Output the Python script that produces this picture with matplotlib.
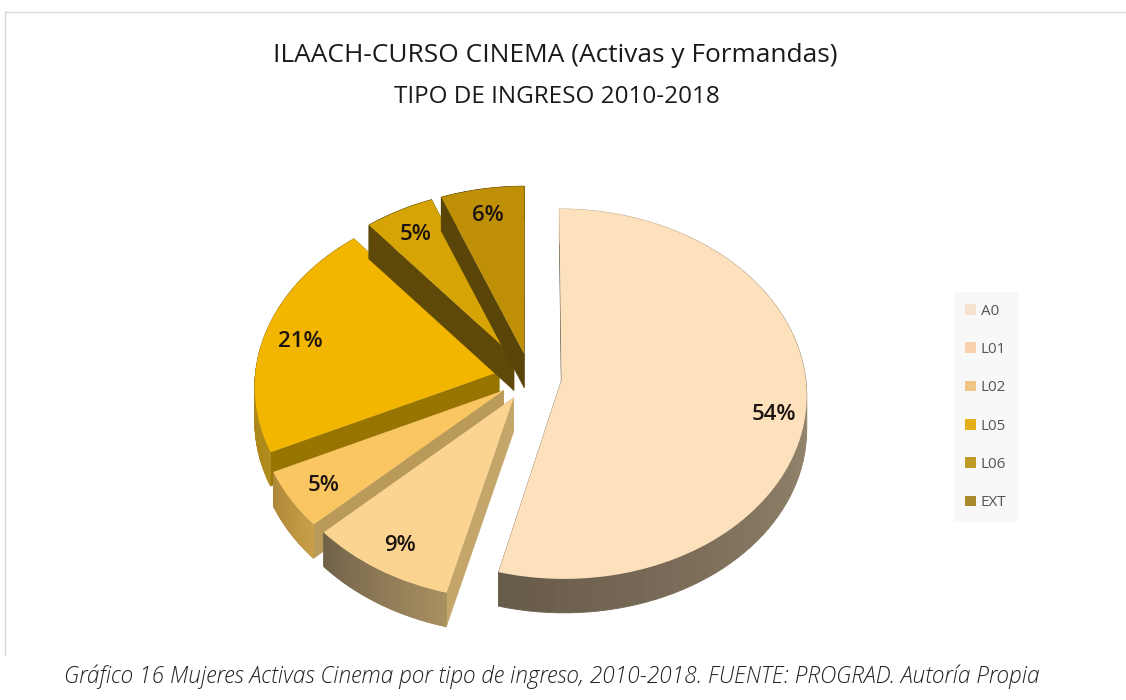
import numpy as np
import matplotlib
matplotlib.use("Agg")
import matplotlib.pyplot as plt
from matplotlib.patches import Rectangle
from matplotlib.lines import Line2D
from matplotlib.transforms import Transform
from matplotlib.colors import to_rgb

# data
categories = ["A0", "L01", "L02", "L05", "L06", "EXT"]
values = [54, 9, 5, 21, 5, 6]

title = "ILAACH-CURSO CINEMA (Activas y Formandas)"
subtitle = "TIPO DE INGRESO 2010-2018"
caption = "Gráfico 16 Mujeres Activas Cinema por tipo de ingreso, 2010-2018. FUENTE: PROGRAD. Autoría Propia"

# colours
face_colors = ["#FDE0BC", "#FCD491", "#FAC661", "#F2B500", "#D6A404", "#BF8F06"]
cut_colors = ["#6E6250", "#C4A56A", "#B99A58", "#987400", "#5E4908", "#5A4508"]
rim_start = ["#C2AE90", "#A88F60", "#C89E48", "#B08A1C", "#5E4908", "#5A4508"]
rim_end = ["#675B49", "#6F6048", "#AE8838", "#A07C10", "#5E4908", "#5A4508"]
legend_colors = ["#F5E3D0", "#F8D2AC", "#EFC586", "#E3B01C", "#C09A28", "#A98A2C"]

# pie drawing settings (pixels of the 1126x700 figure)
W, H = 1126, 700
CX, CY, R = 530, 377, 244
DEPTH = 34 / R
draw_order = [3, 4, 5, 2, 1, 0]


class Tilt(Transform):
    # simple perspective so the pie looks tipped back
    input_dims = 2
    output_dims = 2
    is_affine = False

    def transform_non_affine(self, xy):
        xy = np.asarray(xy, dtype=float)
        w = 1 + 0.075 * xy[:, 1]
        return np.column_stack([xy[:, 0] / w, 0.752 * xy[:, 1] / w])


tilt = Tilt()


def draw_sides(ax, wedge, cut, c1, c2, z):
    cx, cy = wedge.center
    a = np.radians(np.linspace(wedge.theta1, wedge.theta2, 90))
    rim = np.column_stack([cx + wedge.r * np.cos(a), cy + wedge.r * np.sin(a)])
    rim = tilt.transform(rim)
    apex = tilt.transform(np.array([[cx, cy]]))[0]
    down = np.array([0, DEPTH])

    # the two straight cut sides go first, the rim covers them at the corners
    for end in (rim[0], rim[-1]):
        q = np.array([apex, end, end - down, apex - down])
        ax.fill(q[:, 0], q[:, 1], color=cut, lw=0.3, zorder=z)

    # rim, in small pieces to get the shading
    c1, c2 = np.array(to_rgb(c1)), np.array(to_rgb(c2))
    for i in range(len(rim) - 1):
        col = c1 + (c2 - c1) * i / (len(rim) - 2)
        q = np.array([rim[i], rim[i + 1], rim[i + 1] - down, rim[i] - down])
        ax.fill(q[:, 0], q[:, 1], color=col, lw=0.6, zorder=z)


def main():
    plt.rcParams["font.family"] = ["Open Sans", "DejaVu Sans"]
    fig = plt.figure(figsize=(W / 100, H / 100), dpi=100, facecolor="white")
    ax = fig.add_axes([0, 0, 1, 1])

    wedges, _, pcts = ax.pie(
        values,
        explode=[0.13] * len(values),
        startangle=90,
        counterclock=False,
        colors=face_colors,
        autopct="%1.0f%%",
        pctdistance=0.85,
        wedgeprops={"linewidth": 0},
    )

    # axes fill the figure, one data unit is R pixels
    ax.set_aspect("auto")
    ax.set_xlim(-CX / R, (W - CX) / R)
    ax.set_ylim((CY - H) / R, CY / R)
    ax.set_axis_off()

    for rank, i in enumerate(draw_order):
        z = 2 + rank * 2
        d = wedges[i]
        draw_sides(ax, d, cut_colors[i], rim_end[i], rim_start[i], z)
        d.set_transform(tilt + ax.transData)
        d.set_zorder(z + 1)
        pos = tilt.transform(np.array([pcts[i].get_position()]))[0]
        # the big slice has its label a bit lower than the others
        drop = 15 if i == 0 else 3
        shift = 4 if i == 0 else 0
        pcts[i].set_position((pos[0] + shift / R, pos[1] - drop / R))
        pcts[i].set_fontsize(16)
        pcts[i].set_fontweight(600)
        pcts[i].set_color("#1c1410")
        pcts[i].set_zorder(50)

    # thin frame, only top and left are visible
    fig.add_artist(Line2D([5 / W, 1], [1 - 12 / H, 1 - 12 / H], color="#D9D9D9", lw=1))
    fig.add_artist(Line2D([5 / W, 5 / W], [1 - 12 / H, 1 - 655 / H], color="#D9D9D9", lw=1))

    fig.text(555 / W, 1 - 55 / H, title, ha="center", va="center", fontsize=18.9, color="#1a1a1a")
    fig.text(557 / W, 1 - 97 / H, subtitle, ha="center", va="center", fontsize=17.5, color="#1a1a1a")
    fig.text(552 / W, 1 - 677 / H, caption, ha="center", va="center", fontsize=16.25,
             style="italic", weight="light", color="#222222")

    handles = [Rectangle((0, 0), 1, 1, facecolor=c, edgecolor="none") for c in legend_colors]
    leg = ax.legend(
        handles, categories,
        loc="center left",
        bbox_to_anchor=(954 / W, 1 - 407 / H),
        bbox_transform=fig.transFigure,
        frameon=True,
        facecolor="#F8F8F8",
        edgecolor="none",
        fancybox=False,
        framealpha=1,
        fontsize=11,
        labelspacing=1.53,
        handlelength=0.7,
        handleheight=0.7,
        handletextpad=0.3,
        borderaxespad=0,
        borderpad=0.75,
    )
    for t in leg.get_texts():
        t.set_color("#555555")
    leg.set_zorder(60)

    fig.savefig("out.png", dpi=100)


if __name__ == "__main__":
    main()
